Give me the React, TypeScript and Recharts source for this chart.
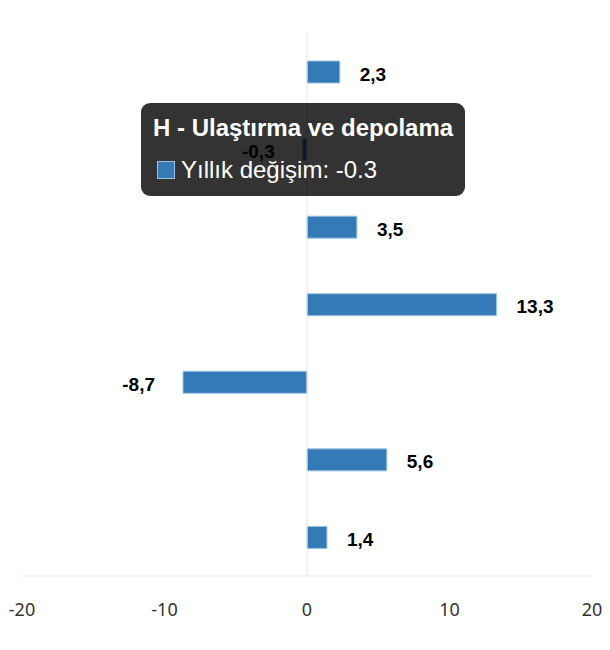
import { BarChart, Bar, XAxis, YAxis, Tooltip, ReferenceLine, LabelList } from 'recharts';

// Sectors (only the second one is visible in the tooltip of the reference)
const categories = [
  'Hizmet',
  'H - Ulaştırma ve depolama',
  'I - Konaklama ve yiyecek hizmeti faaliyetleri',
  'J - Bilgi ve iletişim',
  'L - Gayrimenkul faaliyetleri',
  'M - Mesleki, bilimsel ve teknik faaliyetler',
  'N - İdari ve destek hizmet faaliyetleri',
];
const yearlyChange = [2.3, -0.3, 3.5, 13.3, -8.7, 5.6, 1.4];
const xTicks = [-20, -10, 0, 10, 20];

const SERIES_NAME = 'Yıllık değişim';
const BAR_COLOR = '#337ab7';

const data = categories.map((name, i) => ({ name, value: yearlyChange[i] }));

const ValueLabel = (props: any) => {
  const { x, y, width, height, value } = props;
  const left = Math.min(x, x + width);
  const right = Math.max(x, x + width);
  const negative = value < 0;
  return (
    <text
      x={negative ? left - 28 : right + 20}
      y={y + height / 2 + 2}
      textAnchor={negative ? 'end' : 'start'}
      dominantBaseline="central"
      fontFamily="'Liberation Sans', Arial, sans-serif"
      fontWeight="bold"
      fontSize={19}
      fill="#000"
    >
      {String(value).replace('.', ',')}
    </text>
  );
};

const DarkTooltip = ({ active, payload, label }: any) => {
  if (!active || !payload || !payload.length) return null;
  return (
    <div
      style={{
        background: 'rgba(0,0,0,0.8)',
        borderRadius: 9,
        width: 324,
        height: 93,
        boxSizing: 'border-box',
        padding: '10px 12px',
        color: '#fff',
        fontFamily: "'Liberation Sans', Arial, sans-serif",
        whiteSpace: 'nowrap',
      }}
    >
      <div style={{ fontWeight: 'bold', fontSize: 24, lineHeight: '30px' }}>{label}</div>
      <div style={{ display: 'flex', alignItems: 'center', marginTop: 13, fontSize: 24, lineHeight: '28px' }}>
        <span
          style={{
            display: 'inline-block',
            width: 18,
            height: 18,
            background: BAR_COLOR,
            border: '1px solid #9cc3e4',
            boxSizing: 'border-box',
            marginLeft: 4,
            marginRight: 6,
          }}
        />
        <span>
          {SERIES_NAME}: {payload[0].value}
        </span>
      </div>
    </div>
  );
};

export default function App() {
  return (
    <div style={{ position: 'absolute', left: 0, top: 0, width: 610, height: 650, background: '#fff' }}>
      <BarChart
        width={610}
        height={650}
        data={data}
        layout="vertical"
        margin={{ top: 33, right: 18, left: 22, bottom: 10 }}
      >
        <XAxis
          type="number"
          domain={[-20, 20]}
          ticks={xTicks}
          allowDataOverflow
          height={64}
          stroke="#e6e6e6"
          tickLine={false}
          tickSize={0}
          tickMargin={27}
          tick={{ fill: '#333', fontSize: 18, fontFamily: "'Noto Sans', sans-serif" }}
        />
        <YAxis type="category" dataKey="name" hide />
        <ReferenceLine x={0} stroke="#e6e6e6" strokeWidth={1} />
        <Tooltip
          content={<DarkTooltip />}
          defaultIndex={1}
          active
          cursor={false}
          position={{ x: 141, y: 103 }}
          isAnimationActive={false}
          wrapperStyle={{ transition: 'none' }}
        />
        <Bar
          dataKey="value"
          name={SERIES_NAME}
          fill={BAR_COLOR}
          stroke="#9cc3e4"
          strokeWidth={1}
          barSize={22}
          isAnimationActive={false}
        >
          <LabelList dataKey="value" content={<ValueLabel />} />
        </Bar>
      </BarChart>
    </div>
  );
}
